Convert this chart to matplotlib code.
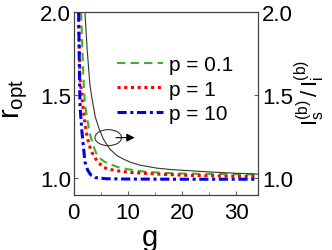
import numpy as np
import matplotlib
matplotlib.use('Agg')
import matplotlib.pyplot as plt
from matplotlib.patches import Ellipse

plt.rcParams['font.family'] = ['Liberation Sans', 'DejaVu Sans']

# r_opt curves (left axis)
g_p01 = [1.4, 1.6, 1.9, 2.1, 2.5, 3.0, 3.6, 4.2, 4.9, 5.7, 6.7, 8.2, 10, 13.2, 16.5, 20, 27, 34]
r_p01 = [2.0, 1.8, 1.55, 1.45, 1.36, 1.27, 1.2, 1.15, 1.12, 1.1, 1.085, 1.068, 1.055, 1.04, 1.033, 1.029, 1.026, 1.024]

g_p1 = [0.9, 1.2, 1.6, 2.1, 2.5, 3.0, 3.4, 4.3, 5.5, 6.7, 8, 10.4, 15.3, 21.5, 27, 34]
r_p1 = [2.0, 1.6, 1.47, 1.33, 1.25, 1.19, 1.156, 1.106, 1.066, 1.054, 1.046, 1.036, 1.026, 1.018, 1.014, 1.011]

g_p10 = [0.95, 1.1, 1.2, 1.55, 2.1, 2.6, 3.2, 4.0, 6, 10, 20, 34]
r_p10 = [2.0, 1.6, 1.43, 1.28, 1.10, 1.05, 1.02, 1.005, 0.998, 0.996, 0.995, 0.995]

# intensity ratio (right axis)
g_I = [2.1, 2.5, 3.0, 3.3, 4.0, 4.7, 5.5, 6.7, 8, 9.2, 10.5, 12.2, 15.3, 18, 21.5, 25, 30, 34]
I_ratio = [2.0, 1.78, 1.57, 1.5, 1.37, 1.3, 1.236, 1.176, 1.137, 1.116, 1.097, 1.08, 1.062, 1.053, 1.046, 1.039, 1.031, 1.026]

fig = plt.figure(figsize=(3.32, 2.51), dpi=100)
ax = fig.add_axes([0.2215, 0.219, 0.5555, 0.729])
ax2 = ax.twinx()

ax.plot(g_p01, r_p01, color='#3cb427', ls=(0, (4, 2.5)), lw=1.5, label='p = 0.1')
ax.plot(g_p1, r_p1, color='#ff0000', ls=(0, (1, 1.2)), lw=2.2, label='p = 1')
ax.plot(g_p10, r_p10, color='#0000ee', ls=(0, (3, 1.2, 1, 1.2)), lw=2.2, label='p = 10')
ax2.plot(g_I, I_ratio, color='#333333', lw=0.8)

for a in (ax, ax2):
    a.set_xlim(0, 34)
    a.set_ylim(0.9, 2.0)
    a.set_yticks([1.0, 1.5, 2.0])
    a.set_yticklabels(['1.0', '1.5', '2.0'])
    for s in a.spines.values():
        s.set_color('#404040')
        s.set_linewidth(0.8)

ax.set_xticks([0, 10, 20, 30])
ax.set_xticks([5, 15, 25], minor=True)
ax.tick_params(axis='x', which='both', direction='in', top=False, labelsize=16, pad=5, color='#606060')
ax.tick_params(axis='x', which='major', length=3)
ax.tick_params(axis='x', which='minor', length=2)
ax.tick_params(axis='y', direction='in', length=3, labelsize=16, pad=2, color='#606060')
ax2.tick_params(axis='y', direction='in', length=3, labelsize=16, pad=3, color='#606060')

# marker for the curve belonging to the right axis
ax.add_patch(Ellipse((6.4, 1.245), 4.9, 0.096, fill=False, ec='#333333', lw=0.8))
ax.annotate('', xy=(11.8, 1.245), xytext=(7.3, 1.245),
            arrowprops=dict(arrowstyle='-|>', color='black', lw=0.8, mutation_scale=12))

ax.legend(loc='upper left', bbox_to_anchor=(0.19, 0.81), frameon=False, fontsize=15,
          handlelength=2.2, handletextpad=0.3, labelspacing=0.27, borderaxespad=0)

fig.text(16 / 332, 1 - 99 / 251, r'$\mathregular{r_{opt}}$', fontsize=21,
         rotation=90, ha='center', va='center')
fig.text(310 / 332, 1 - 93 / 251, r'$\mathregular{I_s^{(b)}\,/\,I_i^{(b)}}$', fontsize=16,
         rotation=90, ha='center', va='center')
fig.text(150 / 332, 1 - 238 / 251, 'g', fontsize=21, ha='center', va='center')

fig.savefig('out.png', dpi=100)
